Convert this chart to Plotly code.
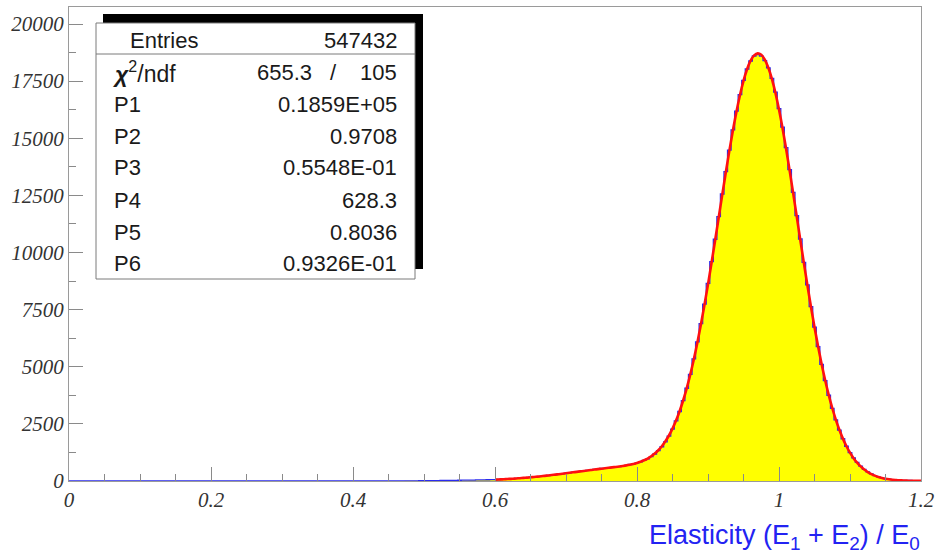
import numpy as np
import plotly.graph_objects as go

# ---------------- data ----------------
BIN_WIDTH = 0.005
# histogram counts, bins centred at 0.000, 0.005, ..., 1.200
hist_counts = [
    0, 0, 0, 0, 0, 0, 0, 0, 0, 0,
    0, 0, 0, 0, 0, 0, 0, 0, 0, 0,
    0, 0, 0, 0, 0, 0, 0, 0, 0, 0,
    0, 0, 0, 0, 0, 0, 0, 0, 0, 0,
    0, 0, 0, 0, 0, 0, 0, 0, 0, 0,
    0, 0, 0, 0, 0, 0, 0, 0, 0, 0,
    0, 0, 0, 0, 0, 0, 0, 0, 0, 0,
    0, 0, 0, 0, 0, 0, 0, 0, 0, 0,
    0, 0, 0, 0, 0, 0, 0, 0, 0, 0,
    2, 3, 3, 4, 5, 6, 7, 8, 9, 10,
    12, 14, 16, 18, 20, 22, 24, 26, 28, 30,
    32, 34, 37, 40, 42, 45, 48, 51, 54, 56,
    57, 66, 72, 83, 90, 101, 112, 121, 137, 147,
    164, 175, 195, 206, 228, 240, 265, 278, 302, 316,
    343, 356, 384, 397, 425, 437, 466, 478, 507, 517,
    546, 554, 583, 592, 622, 632, 667, 680, 722, 745,
    796, 836, 900, 972, 1066, 1182, 1325, 1500, 1712, 1968,
    2270, 2628, 3042, 3518, 4060, 4668, 5345, 6085, 6885, 7740,
    8650, 9600, 10580, 11570, 12560, 13540, 14480, 15370, 16190, 16910,
    17530, 18030, 18380, 18600, 18660, 18590, 18400, 18080, 17620, 17020,
    16300, 15490, 14590, 13630, 12630, 11610, 10590, 9570, 8580, 7630,
    6730, 5885, 5105, 4395, 3752, 3178, 2672, 2230, 1848, 1520,
    1242, 1008, 812, 648, 512, 400, 310, 238, 180, 136,
    102, 78, 60, 47, 38, 31, 26, 22, 19, 16,
    14,
]
hist_x = np.round(np.arange(len(hist_counts)) * BIN_WIDTH, 3)

# fit curve sampled from 0.600 to 1.200
fit_start = 0.6
fit_values = [
    58, 65, 73, 81, 91, 100, 111, 123, 135, 148,
    162, 177, 192, 208, 225, 243, 261, 280, 299, 319,
    339, 359, 380, 400, 420, 441, 460, 482, 501, 520,
    539, 558, 577, 596, 615, 636, 659, 684, 714, 748,
    790, 842, 906, 984, 1081, 1200, 1346, 1523, 1737, 1991,
    2292, 2645, 3054, 3523, 4055, 4655, 5321, 6052, 6847, 7699,
    8604, 9549, 10525, 11519, 12513, 13492, 14437, 15329, 16151, 16884,
    17511, 18019, 18395, 18629, 18716, 18653, 18441, 18086, 17595, 16980,
    16254, 15435, 14537, 13582, 12588, 11573, 10554, 9545, 8565, 7623,
    6730, 5893, 5119, 4411, 3771, 3195, 2687, 2241, 1855, 1522,
    1239, 1001, 802, 637, 502, 392, 304, 234, 178, 135,
    101, 75, 55, 41, 30, 21, 15, 11, 8, 5,
    4,
]
fit_x = np.round(fit_start + np.arange(len(fit_values)) * BIN_WIDTH, 3)

stats_labels = ["P1", "P2", "P3", "P4", "P5", "P6"]
stats_values = ["0.1859E+05", "0.9708", "0.5548E-01", "628.3", "0.8036", "0.9326E-01"]
entries = "547432"
chi2 = "655.3"
ndf = "105"

# ---------------- layout geometry (pixels) ----------------
W, H = 936, 553
L, R, T, B = 69, 921, 7, 481
def px(x):
    return (x - L) / (R - L)
def py(y):
    return (B - y) / (B - T)

fig = go.Figure()
fig.add_trace(go.Scatter(
    x=hist_x, y=hist_counts, mode="lines", line_shape="hvh",
    fill="tozeroy", fillcolor="#ffff00",
    line=dict(color="#2b2bf0", width=1.3), hoverinfo="skip", showlegend=False))
fig.add_trace(go.Scatter(
    x=fit_x, y=fit_values, mode="lines",
    line=dict(color="#ff1010", width=2.6, shape="spline"),
    hoverinfo="skip", showlegend=False))

tickfont = dict(family="Liberation Serif", size=21, color="#333333", style="italic")
axis_common = dict(showline=True, linecolor="#9a9a9a", linewidth=1, mirror=True,
                   ticks="inside", ticklen=14, tickwidth=1, tickcolor="#8a8a8a",
                   showgrid=False, zeroline=False, tickfont=tickfont, automargin=False)

fig.update_layout(
    width=W, height=H,
    margin=dict(l=L, r=W - R, t=T, b=H - B, pad=0),
    paper_bgcolor="white", plot_bgcolor="white",
    xaxis=dict(range=[0, 1.2], dtick=0.2, tick0=0,
               minor=dict(ticks="inside", ticklen=7, dtick=0.05, tickcolor="#8a8a8a"),
               **axis_common),
    yaxis=dict(range=[0, 20744], dtick=2500, tick0=0, tickformat="d",
               minor=dict(ticks="inside", ticklen=7, dtick=1250, tickcolor="#8a8a8a"),
               **axis_common),
)

# stats box: shadow, box, separator
fig.add_shape(type="rect", xref="paper", yref="paper",
              x0=px(103), x1=px(423), y0=py(269), y1=py(14),
              fillcolor="black", line=dict(width=0))
fig.add_shape(type="rect", xref="paper", yref="paper",
              x0=px(96), x1=px(415), y0=py(279), y1=py(23),
              fillcolor="white", line=dict(color="#7a7a7a", width=1))
fig.add_shape(type="line", xref="paper", yref="paper",
              x0=px(96), x1=px(415), y0=py(54), y1=py(54),
              line=dict(color="#7a7a7a", width=1))

sfont = dict(family="Liberation Sans", size=22, color="#1a1a1a")
def txt(x, y, s, anchor, size=None):
    f = dict(sfont)
    if size:
        f["size"] = size
    fig.add_annotation(xref="paper", yref="paper", x=px(x), y=py(y), text=s,
                       showarrow=False, xanchor=anchor, yanchor="middle", font=f)

txt(128, 40, "Entries", "left")
txt(399, 40, entries, "right")
txt(110, 72, "<i><b>χ</b></i><sup>2</sup>/ndf", "left", 23)
txt(314, 72, chi2, "right")
txt(333, 72, "/", "center")
txt(399, 72, ndf, "right")
rows_y = [104, 136, 168, 200, 232, 264]
for lab, val, yy in zip(stats_labels, stats_values, rows_y):
    txt(112, yy, lab, "left")
    txt(399, yy, val, "right")

# x-axis title
fig.add_annotation(xref="paper", yref="paper", x=px(922), y=py(537),
                   text="Elasticity (E<sub>1</sub> + E<sub>2</sub>) / E<sub>0</sub>",
                   showarrow=False, xanchor="right", yanchor="middle",
                   font=dict(family="Liberation Sans", size=27, color="#2323f2"))

fig.write_html("out.html", config={"displayModeBar": False},
               post_script="document.body.style.margin='0px';")
